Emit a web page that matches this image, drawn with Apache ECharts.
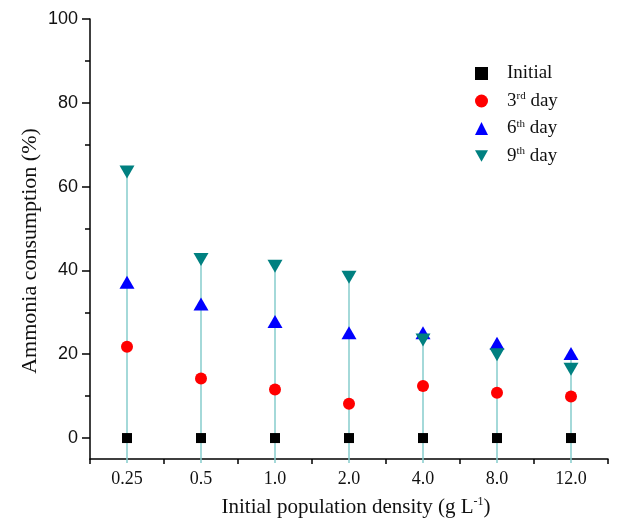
<!DOCTYPE html>
<html>
<head>
<meta charset="utf-8">
<script src="https://cdn.jsdelivr.net/npm/echarts@6/dist/echarts.min.js"></script>
<style>
  html, body { margin: 0; padding: 0; background: #fff; }
  #chart { width: 632px; height: 520px; }
</style>
</head>
<body>
<div id="chart"></div>
<script>
const densities = ['0.25', '0.5', '1.0', '2.0', '4.0', '8.0', '12.0'];
const initial = [0, 0, 0, 0, 0, 0, 0];
const day3 = [21.8, 14.2, 11.6, 8.2, 12.4, 10.8, 9.9];
const day6 = [37.2, 32.0, 27.8, 25.1, 25.1, 22.6, 20.2];
const day9 = [63.5, 42.6, 41.0, 38.4, 23.4, 19.9, 16.4];
const majorTicks = [0, 20, 40, 60, 80, 100];
const minorTicks = [10, 30, 50, 70, 90];

const Y_MIN = -5;
const Y_MAX = 100;
const serif = '"Liberation Serif", "Times New Roman", serif';
const sans = '"Liberation Sans", Arial, sans-serif';
const downTriangle = 'path://M0,0 L10,0 L5,9 Z';

// top of each drop line = highest point of that column
const stemTop = densities.map((_, i) => Math.max(initial[i], day3[i], day6[i], day9[i]));

const chart = echarts.init(document.getElementById('chart'));

const supRich = {
  sup: { fontFamily: serif, fontSize: 11, verticalAlign: 'top', padding: [0, 0, 9, 0], color: '#111' }
};

chart.setOption({
  animation: false,
  grid: { left: 90, right: 24, top: 19, bottom: 61, outerBoundsMode: 'none' },
  legend: {
    orient: 'vertical',
    left: 470,
    top: 59,
    itemGap: 8,
    itemWidth: 13,
    itemHeight: 13,
    textStyle: { fontFamily: serif, fontSize: 19, color: '#111', padding: [0, 0, 0, 14], rich: supRich },
    formatter: (name) => ({
      'Initial': 'Initial',
      '3rd day': '3{sup|rd} day',
      '6th day': '6{sup|th} day',
      '9th day': '9{sup|th} day'
    })[name],
    data: [
      { name: 'Initial', icon: 'rect' },
      { name: '3rd day', icon: 'circle' },
      { name: '6th day', icon: 'triangle' },
      { name: '9th day', icon: downTriangle }
    ]
  },
  xAxis: {
    type: 'category',
    data: densities,
    boundaryGap: true,
    name: 'Initial population density (g L{sup|-1})',
    nameLocation: 'middle',
    nameGap: 37,
    nameTextStyle: {
      fontFamily: serif, fontSize: 21, color: '#111', padding: [0, 0, 0, 14],
      rich: { sup: { fontFamily: serif, fontSize: 12, padding: [0, 0, 10, 0], color: '#111' } }
    },
    axisLine: { onZero: false, lineStyle: { color: '#000', width: 1.5 } },
    axisTick: { show: true, inside: false, length: 5, lineStyle: { color: '#000', width: 1.5 } },
    axisLabel: { fontFamily: serif, fontSize: 18, color: '#111', margin: 11 },
    splitLine: { show: false }
  },
  yAxis: [
    {
      type: 'value',
      min: Y_MIN,
      max: Y_MAX,
      name: 'Ammonia consumption (%)',
      nameLocation: 'middle',
      nameGap: 49,
      nameMoveOverlap: false,
      nameTextStyle: { fontFamily: serif, fontSize: 22, color: '#111', padding: [0, 24, 0, 0] },
      axisLine: { show: true, onZero: false, lineStyle: { color: '#000', width: 1.5 } },
      axisTick: { show: true, length: 8, customValues: majorTicks, lineStyle: { color: '#000', width: 1.5 } },
      axisLabel: { fontFamily: sans, fontSize: 18, color: '#111', margin: 12, customValues: majorTicks },
      splitLine: { show: false }
    },
    {
      type: 'value',
      min: Y_MIN,
      max: Y_MAX,
      position: 'left',
      axisLine: { show: false },
      axisTick: { show: true, length: 5, customValues: minorTicks, lineStyle: { color: '#000', width: 1.5 } },
      axisLabel: { show: false },
      splitLine: { show: false }
    }
  ],
  series: [
    {
      name: 'stems',
      type: 'custom',
      silent: true,
      z: 1,
      data: stemTop.map((v, i) => [i, v]),
      renderItem: (params, api) => {
        const top = api.coord([api.value(0), api.value(1)]);
        const bottom = api.coord([api.value(0), Y_MIN]);
        return {
          type: 'line',
          shape: { x1: top[0], y1: top[1], x2: bottom[0], y2: bottom[1] + 4 },
          style: { stroke: '#86cccc', lineWidth: 1.5 }
        };
      }
    },
    {
      name: 'Initial', type: 'scatter', z: 3,
      symbol: 'rect', symbolSize: 10,
      itemStyle: { color: '#000', opacity: 1 },
      data: initial
    },
    {
      name: '3rd day', type: 'scatter', z: 3,
      symbol: 'circle', symbolSize: 12,
      itemStyle: { color: '#ff0000', opacity: 1 },
      data: day3
    },
    {
      name: '6th day', type: 'scatter', z: 3,
      symbol: 'triangle', symbolSize: [15, 13],
      itemStyle: { color: '#0000ff', opacity: 1 },
      data: day6
    },
    {
      name: '9th day', type: 'scatter', z: 3,
      symbol: downTriangle, symbolSize: [15, 13],
      itemStyle: { color: '#008080', opacity: 1 },
      data: day9
    }
  ]
});
</script>
</body>
</html>
